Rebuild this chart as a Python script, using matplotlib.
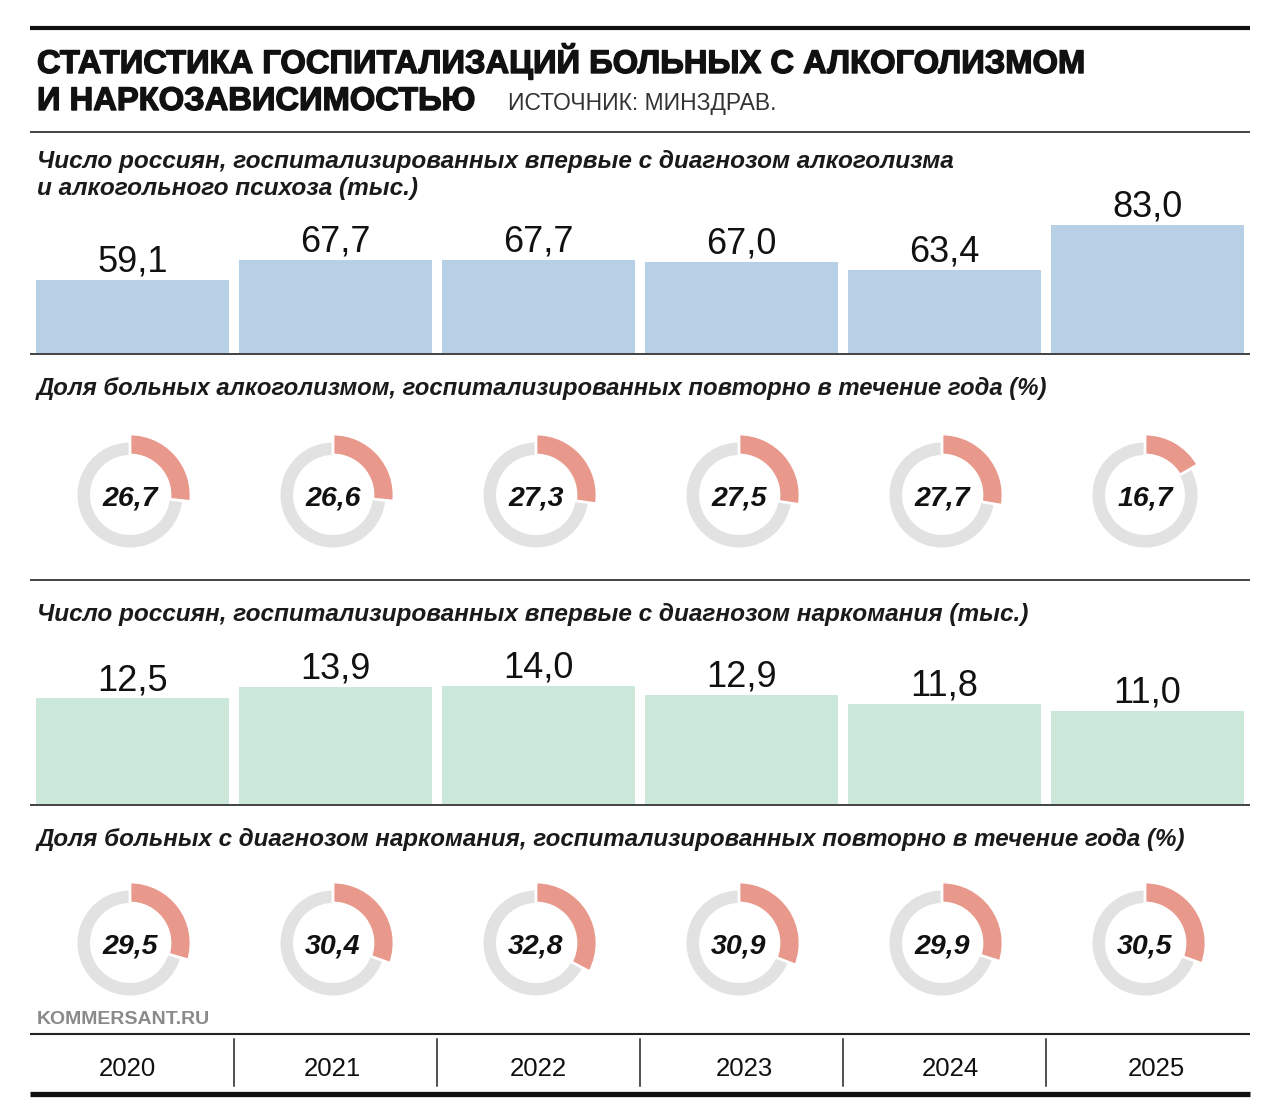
import matplotlib as mpl
mpl.use('Agg')
import matplotlib.pyplot as plt
import matplotlib.patheffects as pe

plt.rcParams['font.family'] = ['Liberation Sans', 'DejaVu Sans']

years = ['2020', '2021', '2022', '2023', '2024', '2025']
alco_first = [59.1, 67.7, 67.7, 67.0, 63.4, 83.0]
alco_repeat = [26.7, 26.6, 27.3, 27.5, 27.7, 16.7]
drug_first = [12.5, 13.9, 14.0, 12.9, 11.8, 11.0]
drug_repeat = [29.5, 30.4, 32.8, 30.9, 29.9, 30.5]

title1 = 'СТАТИСТИКА ГОСПИТАЛИЗАЦИЙ БОЛЬНЫХ С АЛКОГОЛИЗМОМ'
title2 = 'И НАРКОЗАВИСИМОСТЬЮ'
source = 'ИСТОЧНИК: МИНЗДРАВ.'
sub1 = ['Число россиян, госпитализированных впервые с диагнозом алкоголизма',
        'и алкогольного психоза (тыс.)']
sub2 = 'Доля больных алкоголизмом, госпитализированных повторно в течение года (%)'
sub3 = 'Число россиян, госпитализированных впервые с диагнозом наркомания (тыс.)'
sub4 = 'Доля больных с диагнозом наркомания, госпитализированных повторно в течение года (%)'

BLUE = '#b8d0e6'
GREEN = '#cce8da'
SALMON = '#e8998c'
RING = '#e2e2e2'

W, H = 1280, 1119
fig = plt.figure(figsize=(W / 100, H / 100), dpi=100)
bg = fig.add_axes([0, 0, 1, 1])
bg.set_xlim(0, W)
bg.set_ylim(H, 0)
bg.axis('off')
renderer = fig.canvas.get_renderer()


def fit(t, width):
    """scale font so the text gets the given pixel width"""
    w = t.get_window_extent(renderer).width
    t.set_fontsize(t.get_fontsize() * width / w)
    return t


def px_axes(x0, y0, x1, y1):
    """axes placed by pixel box, y from top"""
    return fig.add_axes([x0 / W, 1 - y1 / H, (x1 - x0) / W, (y1 - y0) / H])


def fmt(v):
    return '{0:.1f}'.format(v).replace('.', ',')


def bar_chart(vals, top, base, ymin, k, color):
    ax = px_axes(31, top, 1249, base)
    ax.bar(range(len(vals)), vals, width=0.95, color=color)
    ax.set_xlim(-0.5, len(vals) - 0.5)
    ax.set_ylim(ymin, ymin + (base - top) / k)
    ax.axis('off')
    for i, v in enumerate(vals):
        ax.annotate(fmt(v), (i, v), xytext=(0, 6), textcoords='offset points',
                    ha='center', va='baseline', fontsize=26, color='#111',
                    annotation_clip=False)


def donut_row(vals, cy):
    for i, v in enumerate(vals):
        cx = 130 + 203 * i
        ax = px_axes(cx - 70, cy - 70, cx + 70, cy + 70)
        ax.pie([v, 100 - v], radius=52.5, colors=['none', RING],
               startangle=90, counterclock=False,
               wedgeprops=dict(width=12.5, linewidth=0))
        arc, _ = ax.pie([v, 100 - v], radius=61, colors=[SALMON, 'none'],
                        startangle=90, counterclock=False,
                        wedgeprops=dict(width=21, edgecolor='white', linewidth=2))
        arc[1].set_visible(False)
        ax.set_xlim(-70, 70)
        ax.set_ylim(-70, 70)
        ax.set_aspect('equal')
        bg.text(cx, cy + 10, fmt(v), ha='center', va='baseline', fontsize=20.5,
                fontweight='bold', fontstyle='italic', color='#111')


def hline(y, lw, color='#222', x0=30, x1=1250):
    bg.plot([x0, x1], [y, y], color=color, lw=lw, solid_capstyle='butt')


# header
heavy = [pe.withStroke(linewidth=1.0, foreground='#111')]
hline(28, 3.0, '#111')
t1 = bg.text(37, 73, title1, fontsize=24, fontweight='bold', color='#111',
             va='baseline')
fit(t1, 1049)
t1.set_path_effects(heavy)
bg.text(37, 110, title2, fontsize=t1.get_fontsize(), fontweight='bold',
        color='#111', va='baseline', path_effects=heavy)
bg.text(508, 110, source, fontsize=16.5, color='#333', va='baseline')
hline(132, 1.2)

sub_kw = dict(fontsize=18, fontstyle='italic', fontweight='bold', color='#1a1a1a',
              va='baseline')
s1 = fit(bg.text(37, 168, sub1[0], **sub_kw), 919)
bg.text(37, 195, sub1[1], **dict(sub_kw, fontsize=s1.get_fontsize()))
bar_chart(alco_first, 205, 353, 27.4, 2.3, BLUE)
hline(354, 1.2)

fit(bg.text(37, 395, sub2, **sub_kw), 1013)
donut_row(alco_repeat, 495)
hline(580, 1.2)

fit(bg.text(37, 621, sub3, **sub_kw), 992)
bar_chart(drug_first, 650, 804, 0, 8.45, GREEN)
hline(805, 1.2)

fit(bg.text(37, 846, sub4, **sub_kw), 1147)
donut_row(drug_repeat, 943)

# footer
bg.text(37, 1024, 'KOMMERSANT.RU', fontsize=14, fontweight='bold', color='#8a8a8a',
        va='baseline')
hline(1034, 1.5)
for i, yr in enumerate(years):
    bg.text(127 + 205.8 * i, 1076, yr, fontsize=18.5, ha='center', va='baseline',
            color='#111')
for i in range(1, len(years)):
    x = 31 + 203 * i
    bg.plot([x, x], [1039, 1086], color='#222', lw=1.1)
hline(1094, 3.8, '#111')

fig.savefig('out.png', dpi=100, facecolor='white')
